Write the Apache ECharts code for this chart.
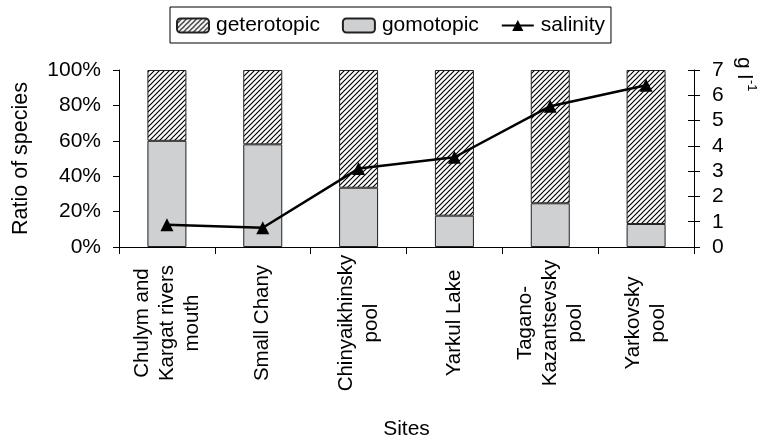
<!DOCTYPE html>
<html>
<head>
<meta charset="utf-8">
<script src="https://cdn.jsdelivr.net/npm/echarts@6/dist/echarts.min.js"></script>
<style>
html,body{margin:0;padding:0;background:#fff;}
#chart{width:761px;height:442px;}
</style>
</head>
<body>
<div id="chart"></div>
<script>
var categories = ["Chulym and\nKargat rivers\nmouth", "Small Chany", "Chinyaikhinsky\npool", "Yarkul Lake", "Tagano-\nKazantsevsky\npool", "Yarkovsky\npool"];
var gomotopic = [60, 58, 33.5, 17.7, 24.7, 13];
var geterotopic = [40, 42, 66.5, 82.3, 75.3, 87];
var salinity = [0.88, 0.76, 3.1, 3.55, 5.57, 6.4];
var leftTicks = [0, 20, 40, 60, 80, 100];
var rightTicks = [0, 1, 2, 3, 4, 5, 6, 7];

var FONT = "'Liberation Sans', Arial, sans-serif";

function hatch() {
  var s = 5;
  var c = document.createElement('canvas');
  c.width = s; c.height = s;
  var g = c.getContext('2d');
  g.fillStyle = '#fff';
  g.fillRect(0, 0, s, s);
  g.strokeStyle = '#000';
  g.lineWidth = 1.2;
  g.beginPath();
  g.moveTo(-1, s + 1); g.lineTo(s + 1, -1);
  g.moveTo(-1, 1); g.lineTo(1, -1);
  g.moveTo(s - 1, s + 1); g.lineTo(s + 1, s - 1);
  g.stroke();
  return c;
}

var chart = echarts.init(document.getElementById('chart'), null, {renderer: 'canvas'});
var option = {
  animation: false,
  backgroundColor: '#fff',
  textStyle: {fontFamily: FONT, color: '#000'},
  legend: {
    top: 7,
    left: 170,
    itemWidth: 32,
    itemHeight: 14,
    itemGap: 22,
    padding: [8, 6, 7, 6],
    borderColor: '#000',
    borderWidth: 1,
    textStyle: {fontSize: 21, fontFamily: FONT, color: '#000', padding: [0, 0, 0, 2]},
    data: ['geterotopic', 'gomotopic', 'salinity']
  },
  grid: {left: 119, right: 67, top: 70, bottom: 195, containLabel: false},
  xAxis: {
    type: 'category',
    data: categories,
    name: 'Sites',
    nameLocation: 'middle',
    nameGap: 172,
    nameTextStyle: {fontSize: 21, fontFamily: FONT, color: '#000'},
    axisLine: {show: true, lineStyle: {color: '#000', width: 1}},
    axisTick: {show: true, length: 7, lineStyle: {color: '#000'}},
    axisLabel: {
      rotate: 90,
      margin: 13,
      color: '#000',
      formatter: function (v) {
        return v.split('\n').map(function (l) { return '{c|' + l + '}'; }).join('\n');
      },
      rich: {c: {width: 126, align: 'center', fontSize: 20.5, lineHeight: 25, fontFamily: FONT, color: '#000'}}
    }
  },
  yAxis: [
    {
      type: 'value', min: 0, max: 100, interval: 20, position: 'left',
      name: 'Ratio of species', nameLocation: 'middle', nameGap: 87,
      nameTextStyle: {fontSize: 21.5, fontFamily: FONT, color: '#000'},
      axisLine: {show: true, lineStyle: {color: '#000', width: 1}},
      axisTick: {show: true, length: 6, lineStyle: {color: '#000'}},
      axisLabel: {fontSize: 21, color: '#000', margin: 18, formatter: function (v) { return leftTicks.indexOf(v) >= 0 ? v + '%' : ''; }},
      splitLine: {show: false}
    },
    {
      type: 'value', min: 0, max: 7, interval: 1, position: 'right',
      axisLine: {show: true, lineStyle: {color: '#000', width: 1}},
      axisTick: {show: true, length: 6, lineStyle: {color: '#000'}},
      axisLabel: {fontSize: 21, color: '#000', margin: 18, formatter: function (v) { return rightTicks.indexOf(v) >= 0 ? String(v) : ''; }},
      splitLine: {show: false}
    },
    {
      type: 'value', min: 0, max: 7, interval: 1, position: 'right',
      axisLine: {show: false},
      axisTick: {show: true, inside: true, length: 6, lineStyle: {color: '#000'}},
      axisLabel: {show: false},
      splitLine: {show: false}
    }
  ],
  series: [
    {
      name: 'gomotopic', type: 'bar', stack: 'r', barWidth: 39, yAxisIndex: 0,
      itemStyle: {color: '#cfd0d2', borderColor: '#222', borderWidth: 1},
      data: gomotopic
    },
    {
      name: 'geterotopic', type: 'bar', stack: 'r', barWidth: 39, yAxisIndex: 0,
      itemStyle: {color: {image: hatch(), repeat: 'repeat'}, borderColor: '#222', borderWidth: 1},
      data: geterotopic
    },
    {
      name: 'salinity', type: 'line', yAxisIndex: 1,
      symbol: 'triangle', symbolSize: 13,
      lineStyle: {color: '#000', width: 2.5},
      itemStyle: {color: '#000'},
      data: salinity, z: 5
    }
  ],
  graphic: [
    {
      type: 'text', x: 744, y: 57, rotation: -Math.PI / 2,
      style: {text: 'g l', fontSize: 21, fontFamily: FONT, fill: '#000', align: 'left', verticalAlign: 'middle'}
    },
    {
      type: 'text', x: 752, y: 80, rotation: -Math.PI / 2,
      style: {text: '-1', fontSize: 13, fontFamily: FONT, fill: '#000', align: 'left', verticalAlign: 'middle'}
    }
  ]
};
chart.setOption(option);
</script>
</body>
</html>
